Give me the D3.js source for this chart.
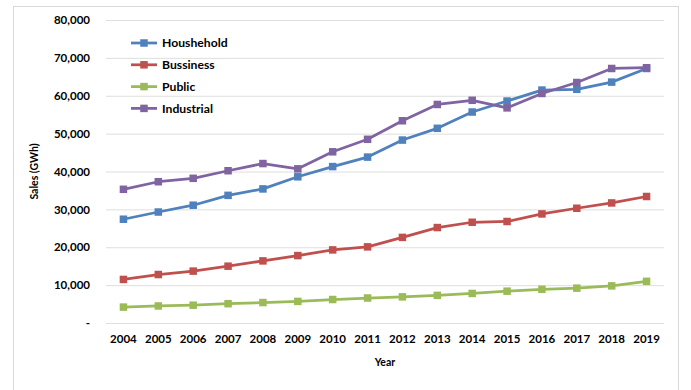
<!DOCTYPE html>
<html>
<head>
<meta charset="utf-8">
<script src="https://cdn.jsdelivr.net/npm/d3@7"></script>
<style>
    body { margin: 0; background: #fff; }
    svg text { font-family: Lato, "Open Sans", sans-serif; font-weight: bold; fill: #000; }
</style>
</head>
<body>
<svg id="chart"></svg>
<script>
'use strict';

const years = ['2004', '2005', '2006', '2007', '2008', '2009', '2010', '2011',
    '2012', '2013', '2014', '2015', '2016', '2017', '2018', '2019'];
const household = [27400, 29300, 31100, 33700, 35400, 38600, 41300, 43800,
    48300, 51400, 55700, 58600, 61500, 61700, 63600, 67200];
const business = [11500, 12800, 13700, 15000, 16400, 17800, 19300, 20100,
    22600, 25200, 26600, 26800, 28800, 30300, 31700, 33400];
const publicSales = [4200, 4500, 4700, 5100, 5400, 5700, 6200, 6600,
    6900, 7300, 7800, 8400, 8900, 9200, 9800, 11000];
const industrial = [35300, 37300, 38200, 40200, 42100, 40700, 45200, 48500,
    53400, 57700, 58800, 56800, 60600, 63500, 67200, 67400];
const seriesNames = ['Houshehold', 'Bussiness', 'Public', 'Industrial'];
const yTicks = [0, 10000, 20000, 30000, 40000, 50000, 60000, 70000, 80000];

(function () {
    const colors = ['#4f81bd', '#c0504d', '#9bbb59', '#8064a2'];
    const series = [household, business, publicSales, industrial].map((values, i) => ({
        name: seriesNames[i],
        color: colors[i],
        values: values
    }));

    const width = 691;
    const height = 390;
    const margin = {top: 20, right: 27, bottom: 67, left: 106};

    const svg = d3.select('#chart')
        .attr('width', width)
        .attr('height', height);

    // outer chart border
    svg.append('rect')
        .attr('x', 13.5)
        .attr('y', 6.5)
        .attr('width', 665)
        .attr('height', 390)
        .attr('fill', 'none')
        .attr('stroke', '#d9d9d9');

    const scaleX = d3.scaleBand()
        .domain(years)
        .range([margin.left, width - margin.right]);

    const scaleY = d3.scaleLinear()
        .domain([0, 80000])
        .range([height - margin.bottom, margin.top]);

    const fmt = d3.format(',');

    const yAxis = svg.append('g')
        .attr('transform', `translate(${margin.left}, 0)`)
        .call(d3.axisLeft(scaleY)
            .tickValues(yTicks)
            .tickSize(-(width - margin.left - margin.right))
            .tickPadding(16)
            .tickFormat(d => d === 0 ? '-' : fmt(d)));

    yAxis.select('.domain').remove();
    yAxis.selectAll('.tick line')
        .attr('stroke', '#dedede')
        .attr('stroke-width', 1);
    yAxis.selectAll('.tick text')
        .attr('font-size', 11.5);

    const xAxis = svg.append('g')
        .attr('transform', `translate(0, ${height - margin.bottom})`)
        .call(d3.axisBottom(scaleX)
            .tickSize(0)
            .tickPadding(12));

    xAxis.select('.domain').remove();
    xAxis.selectAll('.tick text')
        .attr('font-size', 11.5);

    svg.append('text')
        .attr('x', (margin.left + width - margin.right) / 2)
        .attr('y', 366)
        .attr('text-anchor', 'middle')
        .attr('font-size', 10.5)
        .text('Year');

    svg.append('text')
        .attr('transform', `translate(38, ${(margin.top + height - margin.bottom) / 2}) rotate(-90)`)
        .attr('text-anchor', 'middle')
        .attr('font-size', 10.5)
        .text('Sales (GWh)');

    const cx = d => scaleX(d) + scaleX.bandwidth() / 2;
    const line = d3.line()
        .x((d, i) => cx(years[i]))
        .y(d => scaleY(d));

    const groups = svg.append('g')
        .selectAll('g')
        .data(series)
        .join('g');

    groups.append('path')
        .attr('d', d => line(d.values))
        .attr('fill', 'none')
        .attr('stroke', d => d.color)
        .attr('stroke-width', 2.75)
        .attr('stroke-linejoin', 'round');

    groups.selectAll('rect')
        .data(d => d.values.map((v, i) => ({v: v, year: years[i], color: d.color})))
        .join('rect')
        .attr('x', d => cx(d.year) - 3.75)
        .attr('y', d => scaleY(d.v) - 3.75)
        .attr('width', 7.5)
        .attr('height', 7.5)
        .attr('fill', d => d.color);

    // legend
    const legend = svg.append('g')
        .selectAll('g')
        .data(series)
        .join('g')
        .attr('transform', (d, i) => `translate(131, ${43 + i * 21.8})`);

    legend.append('line')
        .attr('x1', 0)
        .attr('x2', 26)
        .attr('stroke', d => d.color)
        .attr('stroke-width', 2.75);

    legend.append('rect')
        .attr('x', 9.25)
        .attr('y', -3.75)
        .attr('width', 7.5)
        .attr('height', 7.5)
        .attr('fill', d => d.color);

    legend.append('text')
        .attr('x', 31)
        .attr('dy', '0.35em')
        .attr('font-size', 12.2)
        .text(d => d.name);
})();
</script>
</body>
</html>
